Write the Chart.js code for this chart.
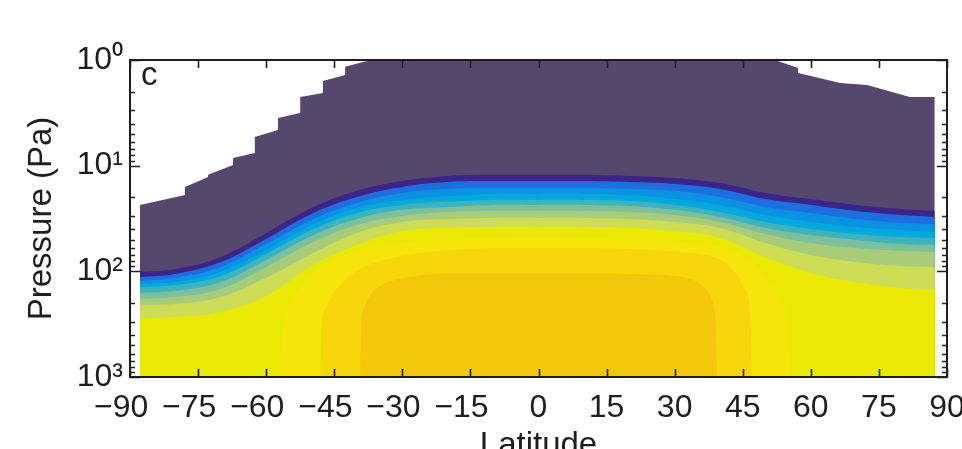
<!DOCTYPE html>
<html><head><meta charset="utf-8">
<script src="https://cdn.jsdelivr.net/npm/chart.js@4.4.0/dist/chart.umd.min.js"></script>
<style>html,body{margin:0;padding:0;background:#fff;overflow:hidden;} #wrap{width:962px;height:480px;}</style>
</head><body><div id="wrap"><canvas id="c" width="962" height="480"></canvas></div>
<script>
// ---- axis ticks ----
const latTicks = [-90,-75,-60,-45,-30,-15,0,15,30,45,60,75,90];
const latTickLabels = ['−90','−75','−60','−45','−30','−15','0','15','30','45','60','75','90'];
const pressureTicks = [1,2,3,4,5,6,7,8,9,10,20,30,40,50,60,70,80,90,100,200,300,400,500,600,700,800,900,1000];
const pressureLabels = {1:'10⁰',10:'10¹',100:'10²',1000:'10³'};

// ---- contour band boundaries (pressure in Pa at each latitude) ----
const latitudes = [-87.8,-80,-70,-60,-50,-40,-30,-20,-10,0,10,20,30,40,50,60,70,80,87.3];
const edgeDark      = [101,94.9,73.1,43.3,25.1,17.3,14.0,12.5,12.2,12.2,12.2,12.5,13.1,14.6,18.1,20.7,23.5,25.7,26.8];
const edgeBlue1     = [113,105.8,81.5,49.3,28.6,19.8,15.9,14.3,14.0,14.0,14.0,14.3,14.9,16.6,20.7,23.5,26.8,29.3,30.6];
const edgeBlue2     = [123.3,115,90.8,55.1,32.6,22.5,18.1,16.6,16.3,16.3,16.3,16.6,17.3,19.8,24.6,28.0,31.9,34.8,35.6];
const edgeCyan      = [131.6,126,101,62.8,36.4,25.1,21.1,19.4,18.5,18.5,18.5,18.9,20.7,23.5,29.3,34.1,38.0,40.6,42.4];
const edgeTeal      = [140.5,134.5,110.5,68.4,40.6,28.0,23.5,22.0,21.1,21.1,21.1,21.6,23.5,27.4,34.1,39.7,44.3,47.3,48.3];
const edgeGreenTeal = [160,153,126,78,46.2,31.9,26.2,24.6,23.5,23.5,23.5,24.1,26.2,30.6,38.8,45.3,50.5,55.1,56.3];
const edgeGreen     = [182.5,174.6,146.6,90.8,53.9,36.4,29.9,27.4,26.8,26.8,26.8,27.4,29.3,34.1,44.3,53.9,60.1,64.1,65.5];
const edgeLime      = [208,203,174.6,115,68.4,43.3,34.1,31.9,31.2,31.2,31.2,31.9,34.1,38.8,53.9,70,81.5,88.9,90.8];
const edgeYellow    = [276,270,242,171,88.9,56.3,41.5,38.8,38.0,38.0,38.0,38.8,41.5,48.3,73.1,103.5,126,143.6,150];

// closed regions reaching the bottom
const brightLat = [-57,-56.3,-55,-53,-50,-45,-38,-30,-20,0,20,30,40,45,48.5,51.5,53.5,54.8,55.4];
const brightP   = [1000,340,220,150,105,76,60,52.7,49.3,48.3,49.3,51.5,58.8,71.5,92.9,135,190,290,1000];
const goldLat   = [-48.1,-47.8,-47,-45.5,-43,-39.3,-32.7,-20,0,20,33.4,38,41,43.5,45.5,46.6,47.0];
const goldP     = [1000,330,230,170,125,95,76,63,60.1,61.4,67,72,82,105,150,240,1000];
const deepLat   = [-39.3,-39.1,-38.4,-37,-35,-32,-25,-18,0,20,30,33,35,36.8,38.3,39.0,39.3];
const deepP     = [1000,330,220,165,138,122,108,103.5,103.5,105.8,110.5,116,126,145,190,300,1000];

// upper (stepped) limit of the data
const topLat = [-87.8,-77.9,-77.9,-72.8,-72.8,-67.3,-67.3,-62.5,-62.5,-57.4,-57.4,-52.5,-52.5,-47.5,-47.5,-42.6,-42.6,-37.8,-37.8,51,52.1,57.2,57.2,66.5,72.4,81.8,87.3];
const topP   = [23.5,18.9,15.9,12.8,12.2,9.85,8.45,7.59,5.35,4.59,3.54,3.17,2.24,2.05,1.58,1.39,1.16,1.02,0.5,0.5,1.0,1.19,1.33,1.65,1.72,2.24,2.24];

const pts = (xs, ys) => xs.map((x, i) => ({x, y: ys[i]}));

// mode: 'step' straight, 'band' smooth spline, 'cap' monotone
const layers = [
  {data: pts(topLat, topP), color: '#56476f', mode: 'step'},
  {data: pts(latitudes, edgeDark), color: '#3b2488', mode: 'band'},
  {data: pts(latitudes, edgeBlue1), color: '#1d6fe0', mode: 'band'},
  {data: pts(latitudes, edgeBlue2), color: '#0c92e2', mode: 'band'},
  {data: pts(latitudes, edgeCyan), color: '#04a8dc', mode: 'band'},
  {data: pts(latitudes, edgeTeal), color: '#3fb3bc', mode: 'band'},
  {data: pts(latitudes, edgeGreenTeal), color: '#7cc09c', mode: 'band'},
  {data: pts(latitudes, edgeGreen), color: '#a8cc7a', mode: 'band'},
  {data: pts(latitudes, edgeLime), color: '#cddd55', mode: 'band'},
  {data: pts(latitudes, edgeYellow), color: '#e9e905', mode: 'band'},
  {data: pts(brightLat, brightP), color: '#f5e50a', mode: 'cap'},
  {data: pts(goldLat, goldP), color: '#f8d60c', mode: 'cap'},
  {data: pts(deepLat, deepP), color: '#f4c80a', mode: 'cap'}
];

const datasets = layers.map((l, i) => ({
  type: 'line',
  data: l.data,
  order: layers.length - i,
  backgroundColor: l.color,
  borderColor: l.color,
  borderWidth: 0,
  pointRadius: 0,
  fill: {value: 1000},
  tension: l.mode === 'band' ? 0.4 : 0,
  cubicInterpolationMode: l.mode === 'cap' ? 'monotone' : 'default'
}));

const frameTicks = {
  id: 'frameTicks',
  afterDraw(chart) {
    const {ctx, chartArea: a, scales: {x, y}} = chart;
    ctx.save();
    ctx.strokeStyle = '#1e1e1e';
    ctx.lineWidth = 1.6;
    ctx.beginPath();
    x.ticks.forEach(t => {
      const px = Math.round(x.getPixelForValue(t.value)) + 0.5;
      ctx.moveTo(px, a.bottom); ctx.lineTo(px, a.bottom - 8);
      ctx.moveTo(px, a.top); ctx.lineTo(px, a.top + 8);
    });
    y.ticks.forEach(t => {
      const py = Math.round(y.getPixelForValue(t.value)) + 0.5;
      const major = Math.abs(Math.log10(t.value) - Math.round(Math.log10(t.value))) < 1e-9;
      const len = major ? 10 : 5;
      ctx.moveTo(a.left, py); ctx.lineTo(a.left + len, py);
      ctx.moveTo(a.right, py); ctx.lineTo(a.right - len, py);
    });
    ctx.stroke();
    ctx.lineWidth = 2;
    ctx.strokeRect(a.left, a.top, a.right - a.left, a.bottom - a.top);
    ctx.fillStyle = '#1e1e1e';
    ctx.font = '33px "Liberation Sans", Arial, sans-serif';
    ctx.textBaseline = 'alphabetic';
    ctx.fillText('c', a.left + 11, a.top + 25);
    ctx.restore();
  }
};

const tickFont = {family: '"Liberation Sans", Arial, sans-serif', size: 32};
const titleFont = {family: '"Liberation Sans", Arial, sans-serif', size: 33};

new Chart(document.getElementById('c'), {
  type: 'line',
  data: {datasets},
  options: {
    responsive: false,
    animation: false,
    events: [],
    layout: {padding: {top: 60, right: 15, left: 0, bottom: 0}},
    plugins: {legend: {display: false}, tooltip: {enabled: false}},
    scales: {
      x: {
        type: 'linear', min: -90, max: 90,
        afterBuildTicks: s => { s.ticks = latTicks.map(v => ({value: v})); },
        ticks: {
          autoSkip: false, maxRotation: 0, padding: 12, color: '#1e1e1e', font: tickFont,
          callback: (v, i) => { const t = latTickLabels[i]; return t.startsWith('−') ? t + '  ' : t; }
        },
        grid: {display: false, drawTicks: false},
        border: {display: false},
        title: {display: true, text: 'Latitude', color: '#1e1e1e', font: titleFont, padding: {top: 0, bottom: 14}},
        afterFit: s => { s.height = 103; s.paddingLeft = 0; s.paddingRight = 0; }
      },
      y: {
        type: 'logarithmic', min: 1, max: 1000, reverse: true,
        afterBuildTicks: s => { s.ticks = pressureTicks.map(v => ({value: v})); },
        ticks: {
          autoSkip: false, padding: 7, color: '#1e1e1e', font: tickFont,
          callback: v => pressureLabels[v] || ''
        },
        grid: {display: false, drawTicks: false},
        border: {display: false},
        title: {display: true, text: 'Pressure (Pa)', color: '#1e1e1e', font: titleFont, padding: {top: 22, bottom: 0}},
        afterFit: s => { s.width = 130; s.paddingTop = 0; s.paddingBottom = 0; }
      }
    }
  },
  plugins: [frameTicks]
});
</script>
</body></html>
